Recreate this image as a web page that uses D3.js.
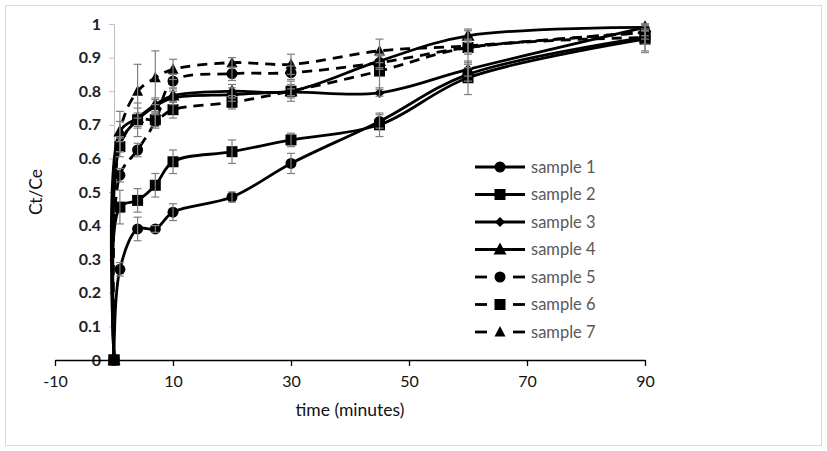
<!DOCTYPE html>
<html><head><meta charset="utf-8">
<script src="https://cdn.jsdelivr.net/npm/d3@7"></script>
<style>
body{margin:0;background:#fff;}
svg{display:block;}
</style>
</head><body>
<svg id="chart" width="827" height="451"></svg>
<script>
const times = [0, 1, 4, 7, 10, 20, 30, 45, 60, 90];
const seriesNames = ["sample 1","sample 2","sample 3","sample 4","sample 5","sample 6","sample 7"];
const sample1 = [0, 0.27, 0.39, 0.39, 0.44, 0.485, 0.585, 0.71, 0.85, 0.96];
const sample2 = [0, 0.455, 0.475, 0.52, 0.59, 0.62, 0.655, 0.70, 0.84, 0.955];
const sample3 = [0, 0.64, 0.715, 0.755, 0.78, 0.79, 0.797, 0.795, 0.865, 0.99];
const sample4 = [0, 0.68, 0.72, 0.76, 0.787, 0.80, 0.80, 0.89, 0.965, 0.99];
const sample5 = [0, 0.55, 0.625, 0.71, 0.83, 0.852, 0.855, 0.885, 0.93, 0.975];
const sample6 = [0, 0.635, 0.715, 0.715, 0.745, 0.767, 0.80, 0.86, 0.93, 0.96];
const sample7 = [0, 0.68, 0.80, 0.84, 0.865, 0.885, 0.88, 0.92, 0.935, 0.975];
const err1 = [0, 0.02, 0.035, 0.01, 0.025, 0.015, 0.03, 0.02, 0.02, 0.02];
const err2 = [0, 0.05, 0.035, 0.035, 0.035, 0.035, 0.02, 0.035, 0.05, 0.04];
const err3 = [0, 0.02, 0.02, 0.02, 0.02, 0.02, 0.01, 0.01, 0.02, 0.01];
const err4 = [0, 0.03, 0.03, 0.02, 0.02, 0.02, 0.02, 0.02, 0.02, 0.01];
const err5 = [0, 0.02, 0.02, 0.02, 0.02, 0.02, 0.02, 0.02, 0.02, 0.02];
const err6 = [0, 0.03, 0.05, 0.02, 0.025, 0.02, 0.03, 0.05, 0.05, 0.04];
const err7 = [0, 0.06, 0.08, 0.08, 0.03, 0.015, 0.03, 0.035, 0.02, 0.01];
const xTicks = [-10, 10, 30, 50, 70, 90];
const yTicks = [0, 0.1, 0.2, 0.3, 0.4, 0.5, 0.6, 0.7, 0.8, 0.9, 1];

const values = [sample1, sample2, sample3, sample4, sample5, sample6, sample7];
const errs = [err1, err2, err3, err4, err5, err6, err7];
const markers = ["circle","square","diamond","triangle","circle","square","triangle7"];
const dashed = [false,false,false,false,true,true,true];

const svg = d3.select("#chart");
const FONT = "Lato, 'Open Sans', sans-serif";

svg.append("rect").attr("x",5.5).attr("y",5.5).attr("width",816).attr("height",440)
  .attr("fill","#fff").attr("stroke","#d9d9d9");

const x = d3.scaleLinear().domain([-10, 90]).range([55, 645]);
const y = d3.scaleLinear().domain([0, 1]).range([360, 24]);

// y axis at x=0
const yAxis = svg.append("g").attr("transform",`translate(${x(0)},0)`)
  .call(d3.axisLeft(y).tickValues(yTicks).tickSize(5).tickFormat(d => String(+d.toFixed(1))));
yAxis.select(".domain").attr("stroke","#bfbfbf").attr("stroke-width",1);
yAxis.selectAll(".tick line").attr("stroke","#bfbfbf");
yAxis.selectAll(".tick text").attr("font-family",FONT).attr("font-size",16).attr("font-weight",700)
  .attr("fill","#222").attr("x",-13);

// x axis at y=0
const xAxis = svg.append("g").attr("transform",`translate(0,${y(0)})`)
  .call(d3.axisBottom(x).tickValues(xTicks).tickSize(6).tickSizeOuter(0).tickFormat(d => String(d)));
xAxis.select(".domain").attr("stroke","#000").attr("stroke-width",1.3);
xAxis.selectAll(".tick line").attr("stroke","#000").attr("stroke-width",1.3);
xAxis.selectAll(".tick text").attr("font-family",FONT).attr("font-size",16).attr("fill","#111").attr("dy","1.15em");

svg.append("text").attr("x",350).attr("y",416).attr("text-anchor","middle")
  .attr("font-family",FONT).attr("font-size",17.5).attr("fill","#111").text("time (minutes)");
svg.append("text").attr("transform","translate(42,192) rotate(-90)").attr("text-anchor","middle")
  .attr("font-family",FONT).attr("font-size",17.5).attr("fill","#111").text("Ct/Ce");

const line = d3.line().x(d => x(d[0])).y(d => y(d[1])).curve(d3.curveCatmullRom.alpha(0.5));

function drawMarker(g, type, cx, cy) {
  if (type === "circle") g.append("circle").attr("cx",cx).attr("cy",cy).attr("r",5.5).attr("fill","#000");
  else if (type === "square") g.append("rect").attr("x",cx-5.5).attr("y",cy-5.5).attr("width",11).attr("height",11).attr("fill","#000");
  else if (type === "diamond") g.append("path").attr("d",`M${cx},${cy-5}L${cx+5},${cy}L${cx},${cy+5}L${cx-5},${cy}Z`).attr("fill","#000");
  else if (type === "triangle") g.append("path").attr("d",`M${cx},${cy-7}L${cx+6.5},${cy+5}L${cx-6.5},${cy+5}Z`).attr("fill","#000");
  else if (type === "triangle7") g.append("path").attr("d",`M${cx},${cy-6}L${cx+5.5},${cy+4.5}L${cx-5.5},${cy+4.5}Z`).attr("fill","#000");
}

const plot = svg.append("g");
values.forEach((vals, i) => {
  const pts = times.map((t, j) => [t, vals[j]]);
  plot.append("path").attr("d", line(pts)).attr("fill","none").attr("stroke","#000")
    .attr("stroke-width",2.8).attr("stroke-dasharray", dashed[i] ? "10,7" : null);
});
values.forEach((vals, i) => {
  const g = plot.append("g");
  times.forEach((t, j) => drawMarker(g, markers[i], x(t), y(vals[j])));
});
// error bars
const eb = svg.append("g").attr("stroke","#7f7f7f").attr("stroke-width",1.2);
values.forEach((vals, i) => {
  times.forEach((t, j) => {
    const e = errs[i][j];
    if (!e) return;
    const cx = x(t), y1 = y(vals[j] - e), y2 = y(vals[j] + e);
    eb.append("line").attr("x1",cx).attr("x2",cx).attr("y1",y1).attr("y2",y2);
    eb.append("line").attr("x1",cx-4).attr("x2",cx+4).attr("y1",y1).attr("y2",y1);
    eb.append("line").attr("x1",cx-4).attr("x2",cx+4).attr("y1",y2).attr("y2",y2);
  });
});

// legend
const lg = svg.append("g");
seriesNames.forEach((name, i) => {
  const ly = 167 + i * 27.5;
  if (dashed[i]) {
    lg.append("line").attr("x1",475).attr("x2",487).attr("y1",ly).attr("y2",ly).attr("stroke","#000").attr("stroke-width",2.8);
    lg.append("line").attr("x1",513).attr("x2",525).attr("y1",ly).attr("y2",ly).attr("stroke","#000").attr("stroke-width",2.8);
  } else {
    lg.append("line").attr("x1",475).attr("x2",525).attr("y1",ly).attr("y2",ly).attr("stroke","#000").attr("stroke-width",2.8);
  }
  drawMarker(lg, markers[i], 500, ly);
  lg.append("text").attr("x",531).attr("y",ly).attr("dy","0.35em")
    .attr("font-family",FONT).attr("font-size",16.5).attr("fill","#595959").text(name);
});
</script>
</body></html>
